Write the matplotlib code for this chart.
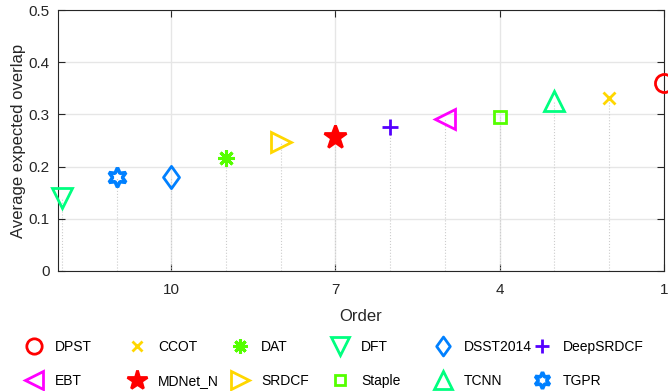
import numpy as np
import matplotlib.pyplot as plt
from matplotlib.path import Path

# Données : trackers, rang et score (EAO)
trackers = ['DPST', 'CCOT', 'TCNN', 'Staple', 'EBT', 'DeepSRDCF',
            'MDNet_N', 'SRDCF', 'DAT', 'DSST2014', 'TGPR', 'DFT']
order = [1, 2, 3, 4, 5, 6, 7, 8, 9, 10, 11, 12]
eao = [0.361, 0.331, 0.325, 0.295, 0.291, 0.276,
       0.257, 0.247, 0.217, 0.181, 0.181, 0.139]

# Ordre de la légende (2 lignes x 6 colonnes)
legend_row1 = ['DPST', 'CCOT', 'DAT', 'DFT', 'DSST2014', 'DeepSRDCF']
legend_row2 = ['EBT', 'MDNet_N', 'SRDCF', 'Staple', 'TCNN', 'TGPR']

# Losange (comme le 'diamond' de MATLAB)
diamond = Path([(0, 1), (0.72, 0), (0, -1), (-0.72, 0), (0, 1)],
               [Path.MOVETO, Path.LINETO, Path.LINETO, Path.LINETO, Path.CLOSEPOLY])

styles = {
    'DPST': dict(marker='o', color='#ff0000', ms=13, mew=2, fill=False),
    'CCOT': dict(marker='x', color='#ffd700', ms=9, mew=2, fill=False),
    'DAT': dict(marker=(8, 2, 0), color='#55ff00', ms=12, mew=2.2, fill=False),
    'DFT': dict(marker='v', color='#00ff80', ms=15, mew=2, fill=False),
    'DSST2014': dict(marker=diamond, color='#0080ff', ms=16, mew=2, fill=False),
    'DeepSRDCF': dict(marker='+', color='#5500ff', ms=12, mew=2, fill=False),
    'EBT': dict(marker='<', color='#ff00ff', ms=15, mew=2, fill=False),
    'MDNet_N': dict(marker='*', color='#ff0000', ms=17, mew=2, fill=True),
    'SRDCF': dict(marker='>', color='#ffd700', ms=15, mew=2, fill=False),
    'Staple': dict(marker='s', color='#55ff00', ms=9, mew=2, fill=False),
    'TCNN': dict(marker='^', color='#00ff80', ms=15, mew=2, fill=False),
    'TGPR': dict(marker=(6, 1, 0), color='#0080ff', ms=14, mew=2.6, fill=False),
}

plt.rcParams['font.family'] = ['Liberation Sans', 'DejaVu Sans']

fig = plt.figure(figsize=(6.68, 3.91), dpi=100)
ax = fig.add_axes([0.0868, 0.307, 0.907, 0.667])

handles = {}
for name, o, v in zip(trackers, order, eao):
    st = styles[name]
    # Ligne pointillée verticale jusqu'à l'axe
    ax.plot([o, o], [0, v], ':', color='#cccccc', lw=0.8, zorder=1)
    h, = ax.plot(o, v, linestyle='none', marker=st['marker'], ms=st['ms'],
                 mec=st['color'], mfc=st['color'] if st['fill'] else 'none',
                 mew=st['mew'], clip_on=False, zorder=3, label=name)
    handles[name] = h

ax.set_xlim(12.07, 1)
ax.set_ylim(0, 0.5)
ax.set_xticks([10, 7, 4, 1])
ax.set_yticks([0, 0.1, 0.2, 0.3, 0.4, 0.5])
ax.set_yticklabels(['0', '0.1', '0.2', '0.3', '0.4', '0.5'])
ax.grid(True, color='#e6e6e6', lw=1.0, zorder=0)
ax.set_axisbelow(True)
ax.tick_params(direction='in', top=True, right=True, length=5,
               labelsize=11, colors='#262626')
ax.tick_params(axis='x', pad=9)
ax.tick_params(axis='y', pad=6)
for sp in ax.spines.values():
    sp.set_color('#262626')
    sp.set_linewidth(0.8)
ax.set_xlabel('Order', fontsize=12, color='#262626', labelpad=8)
ax.set_ylabel('Average expected overlap', fontsize=12, color='#262626', labelpad=2)

# Légende : une entrée par position (colonnes de largeur fixe)
W, H = 6.68 * 100, 3.91 * 100
fs = 10
fs_px = fs * 100 / 72
marker_x = [34, 137, 240, 340, 443, 542]
text_gap = 21
row_y = [347, 381]
for r, row in enumerate([legend_row1, legend_row2]):
    for c, name in enumerate(row):
        hl = 1.0
        htp = text_gap / fs_px - hl / 2
        x0 = marker_x[c] - hl * fs_px / 2
        fig.legend([handles[name]], [name], frameon=False, loc='center left',
                   bbox_to_anchor=(x0 / W, 1 - row_y[r] / H), markerscale=0.85,
                   fontsize=fs, handlelength=hl, handletextpad=htp,
                   borderpad=0, borderaxespad=0)

fig.savefig('out.png', dpi=100)
